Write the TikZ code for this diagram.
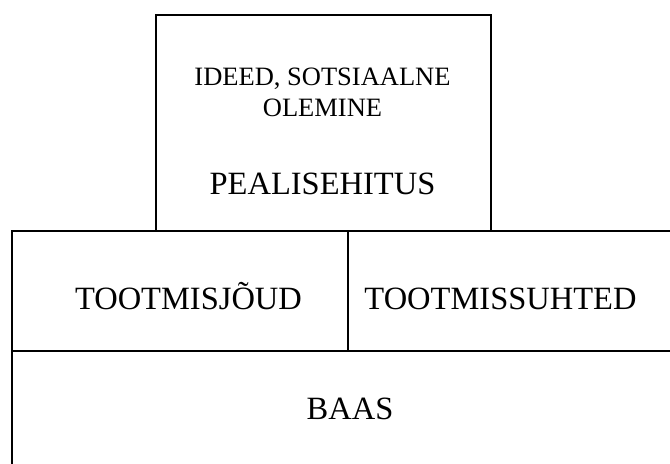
\documentclass[tikz,border=0pt]{standalone}
\usepackage{fontspec}
\setmainfont{Liberation Serif}
\begin{document}
\begin{tikzpicture}[x=1bp,y=-1bp,
  cell/.style={draw=black, line width=2bp, rectangle, inner sep=0pt, anchor=north west},
  small/.style={font=\fontsize{26.5bp}{31bp}\selectfont, inner sep=0pt, anchor=base},
  big/.style={font=\fontsize{32.5bp}{38bp}\selectfont, inner sep=0pt, anchor=base}]
  \useasboundingbox (0,0) rectangle (670,464);
  % superstructure box on top
  \node[cell, minimum width=335bp, minimum height=216bp] (top) at (155,14) {};
  % productive forces and relations of production
  \node[cell, minimum width=336bp, minimum height=120bp] (forces) at (11,230) {};
  \node[cell, minimum width=330bp, minimum height=120bp] (relations) at (347,230) {};
  % base, running past the page edge
  \node[cell, minimum width=665bp, minimum height=120bp] (base) at (11,350) {};
  % texts
  \node[small] (ideas) at (322.5,85.5) {IDEED, SOTSIAALNE};
  \node[small] (being) at (322.5,116.5) {OLEMINE};
  \node[big] (super) at (322.5,195) {PEALISEHITUS};
  \node[big] (tf) at (188.5,310) {TOOTMISJÕUD};
  \node[big] (ts) at (500.5,310) {TOOTMISSUHTED};
  \node[big] (baas) at (350,419) {BAAS};
\end{tikzpicture}
\end{document}
